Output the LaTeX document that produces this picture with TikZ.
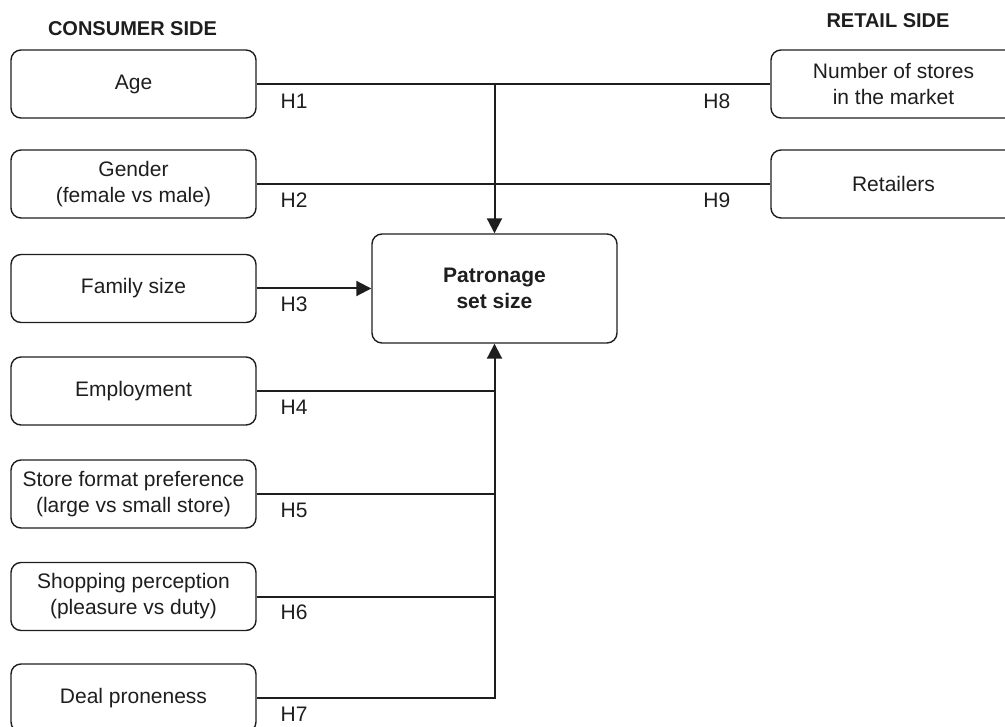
\documentclass[tikz,border=0pt]{standalone}
\usepackage{fontspec}
\setmainfont{Liberation Sans}
\usetikzlibrary{positioning,arrows.meta,calc}
\definecolor{vline}{HTML}{1E1E1E}
\tikzset{vbox/.style={rectangle, rounded corners=10pt, draw=vline, line width=1.4pt, minimum width=245pt, minimum height=68pt, inner sep=2pt, align=center, text=vline, font=\fontsize{21}{26}\selectfont}}
\tikzset{vcentre/.style={vbox, minimum height=109pt, font=\fontsize{21}{26}\selectfont\bfseries}}
\tikzset{vhead/.style={inner sep=0pt, text=vline, font=\fontsize{20}{24}\selectfont\bfseries}}
\tikzset{vlink/.style={draw=vline, line width=2pt}}
\tikzset{varrow/.style={vlink, -{Triangle[length=15pt, width=15pt]}}}
\tikzset{vlabel/.style={inner sep=0pt, text=vline, font=\fontsize{21}{26}\selectfont}}

\begin{document}
\begin{tikzpicture}[x=1pt, y=-1pt]
  \useasboundingbox (0,0) rectangle (1005,727);
  \clip (0,0) rectangle (1005,727);

  \node[vhead] (conshead) at (132.5,28.5) {CONSUMER SIDE};
  \node[vhead] (rethead) at (888,21) {RETAIL SIDE};

  % consumer side
  \node[vbox] (age) at (133.5,84) {Age};
  \node[vbox] (gender) at (133.5,184) {Gender\\(female vs male)};
  \node[vbox] (family) at (133.5,288.5) {Family size};
  \node[vbox] (employ) at (133.5,391) {Employment};
  \node[vbox] (format) at (133.5,494) {Store format preference\\(large vs small store)};
  \node[vbox] (percep) at (133.5,596.5) {Shopping perception\\(pleasure vs duty)};
  \node[vbox] (deal) at (133.5,698) {Deal proneness};

  % retail side
  \node[vbox] (stores) at (893.5,84) {Number of stores\\in the market};
  \node[vbox] (retailers) at (893.5,184) {Retailers};

  \node[vcentre] (patron) at (494.5,288.5) {Patronage\\set size};

  % top bus
  \coordinate (tophub) at (patron.north |- age.east);
  \draw[vlink] (age.east) -- (stores.west)
    node[vlabel, at start, anchor=west, xshift=23pt, yshift=-17pt] {H1}
    node[vlabel, at end, anchor=east, xshift=-39pt, yshift=-17pt] {H8};
  \draw[vlink] (gender.east) -- (retailers.west)
    node[vlabel, at start, anchor=west, xshift=23pt, yshift=-16pt] {H2}
    node[vlabel, at end, anchor=east, xshift=-39pt, yshift=-16pt] {H9};
  \draw[varrow] (tophub) -- (patron.north);

  \draw[varrow] (family.east) -- (patron.west)
    node[vlabel, at start, anchor=west, xshift=23pt, yshift=-16pt] {H3};

  % bottom bus
  \draw[varrow] (deal.east) -| (patron.south)
    node[vlabel, at start, anchor=west, xshift=23pt, yshift=-16pt] {H7};
  \foreach \src/\hyp in {employ/H4, format/H5, percep/H6}
    \draw[vlink] (\src.east) -- (\src.east -| patron.south)
      node[vlabel, at start, anchor=west, xshift=23pt, yshift=-16pt] {\hyp};
\end{tikzpicture}
\end{document}
